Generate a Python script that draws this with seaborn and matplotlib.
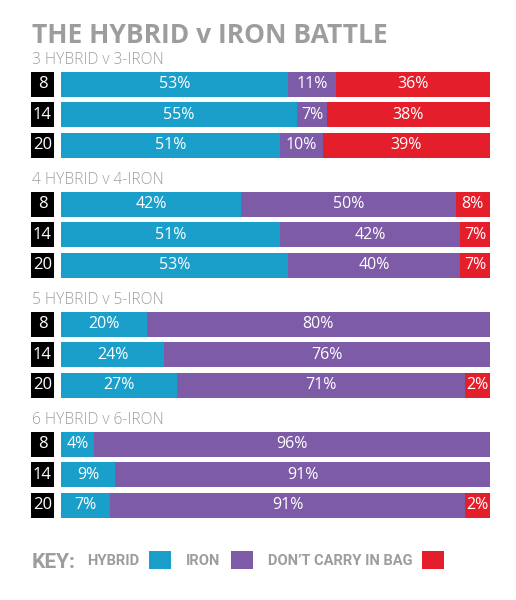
import numpy as np
import pandas as pd
import matplotlib.pyplot as plt
import seaborn as sns
from matplotlib.patches import Patch

TITLE = "THE HYBRID v IRON BATTLE"
GROUPS = ["3 HYBRID v 3-IRON", "4 HYBRID v 4-IRON",
          "5 HYBRID v 5-IRON", "6 HYBRID v 6-IRON"]
HANDICAPS = ["8", "14", "20"]

# percentages per row (4 groups x 3 handicaps)
HYBRID   = [53, 55, 51, 42, 51, 53, 20, 24, 27, 4, 9, 7]
IRON     = [11, 7, 10, 50, 42, 40, 80, 76, 71, 96, 91, 91]
NO_CARRY = [36, 38, 39, 8, 7, 7, 0, 0, 2, 0, 0, 2]

# segment lengths as drawn in the original (small shares are widened there)
HYBRID_LEN   = [53, 55, 51, 42, 51, 53, 20, 24, 27, 7.7, 12.6, 11.4]
IRON_LEN     = [11, 7, 10, 50, 42, 40, 80, 76, 67.2, 92.3, 87.4, 82.8]
NO_CARRY_LEN = [36, 38, 39, 8, 7, 7, 0, 0, 5.8, 0, 0, 5.8]

SERIES = ["HYBRID", "IRON", "DON\u2019T CARRY IN BAG"]
COLORS = ["#1a9fcb", "#7d5ba6", "#e41e2b"]
GREY = "#9d9d9d"

W, H = 516, 600

df = pd.DataFrame({
    "group": np.repeat(GROUPS, len(HANDICAPS)),
    "handicap": HANDICAPS * len(GROUPS),
    "hybrid": HYBRID,
    "iron": IRON,
    "none": NO_CARRY,
    "hybrid_len": HYBRID_LEN,
    "iron_len": IRON_LEN,
    "none_len": NO_CARRY_LEN,
})
df["c1"] = df["hybrid_len"]
df["c2"] = df["c1"] + df["iron_len"]
df["c3"] = df["c2"] + df["none_len"]


def px(x0, y0, x1, y1):
    return [x0 / W, 1 - y1 / H, (x1 - x0) / W, (y1 - y0) / H]


sns.set_theme(style="white")
plt.rcParams["font.family"] = ["Open Sans", "DejaVu Sans"]

fig = plt.figure(figsize=(W / 100, H / 100), dpi=100)
fig.patch.set_facecolor("white")

fig.text(32 / W, 1 - 43 / H, TITLE, fontsize=19, fontweight="bold",
         color=GREY, va="baseline", ha="left")

bar_w = 0.82
for g, name in enumerate(GROUPS):
    top = 69 + 120 * g
    bot = top + 91.5
    sub = df[df["group"] == name].reset_index(drop=True)

    fig.text(32 / W, 1 - (top - 5) / H, name, fontsize=11.2, fontweight="light",
             color=GREY, va="baseline", ha="left")

    # handicap boxes
    axb = fig.add_axes(px(31, top, 54, bot))
    sns.barplot(x=[1] * len(HANDICAPS), y=HANDICAPS, color="black",
                width=bar_w, linewidth=0, orient="h", ax=axb, saturation=1)
    axb.set_xlim(0, 1)
    for i, h in enumerate(HANDICAPS):
        axb.text(0.5, i, h, color="white", fontsize=12, ha="center",
                 va="center")
    axb.axis("off")

    # stacked bars: draw cumulative totals back to front
    ax = fig.add_axes(px(61, top, 490, bot))
    for col, c in zip(["c3", "c2", "c1"], COLORS[::-1]):
        sns.barplot(data=sub, x=col, y="handicap", color=c, width=bar_w,
                    linewidth=0, orient="h", ax=ax, saturation=1)
    ax.set_xlim(0, 100)
    ax.axis("off")

    for i, row in sub.iterrows():
        left = 0
        for key in ["hybrid", "iron", "none"]:
            v, ln = row[key], row[key + "_len"]
            if v > 0:
                ax.text(left + ln / 2, i, f"{v}%", color="white",
                        fontsize=11.5, ha="center", va="center")
            left += ln

# key
fig.text(32 / W, 1 - 568 / H, "KEY:", fontsize=15, fontweight="bold",
         color=GREY, va="baseline", ha="left", family=["Roboto", "DejaVu Sans"])
handles = [Patch(facecolor=c, edgecolor="none") for c in COLORS]
leg = fig.legend(handles, SERIES, loc="center left",
                 bbox_to_anchor=(81 / W, 1 - 560 / H), ncol=3, frameon=False,
                 markerfirst=False, handlelength=1.5, handleheight=1.5,
                 handletextpad=0.7, columnspacing=1.0, borderaxespad=0,
                 prop={"family": ["Roboto", "DejaVu Sans"], "weight": "bold",
                       "size": 10.6})
for t in leg.get_texts():
    t.set_color(GREY)

fig.savefig("out.png", dpi=100)
